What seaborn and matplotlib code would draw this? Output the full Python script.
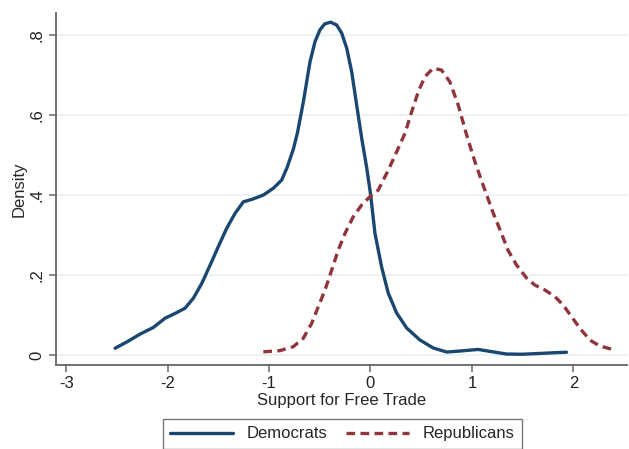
import pandas as pd
import matplotlib
matplotlib.use("Agg")
import matplotlib.pyplot as plt
import seaborn as sns

# valores (densidade estimada por partido)
dem_x = [-2.517, -2.40, -2.27, -2.14, -2.025, -1.926, -1.828, -1.746, -1.663, -1.58,
         -1.50, -1.417, -1.335, -1.253, -1.17, -1.056, -0.957, -0.875, -0.82, -0.76,
         -0.72, -0.66, -0.596, -0.547, -0.498, -0.45, -0.392, -0.333, -0.284, -0.234,
         -0.185, -0.136, -0.087, -0.037, 0.002, 0.044, 0.11, 0.175, 0.258, 0.357, 0.488,
         0.62, 0.751, 0.882, 1.06, 1.207, 1.34, 1.50, 1.67, 1.834, 1.933]
dem_y = [0.017, 0.033, 0.0525, 0.069, 0.092, 0.104, 0.117, 0.142, 0.179, 0.225,
         0.271, 0.317, 0.354, 0.383, 0.389, 0.40, 0.417, 0.4375, 0.47, 0.515,
         0.555, 0.635, 0.733, 0.783, 0.813, 0.828, 0.832, 0.825, 0.805, 0.767,
         0.708, 0.625, 0.543, 0.468, 0.40, 0.305, 0.22, 0.155, 0.105, 0.0675, 0.0375,
         0.0175, 0.0075, 0.01, 0.014, 0.008, 0.0025, 0.002, 0.004, 0.006, 0.007]

rep_x = [-1.056, -0.892, -0.76, -0.662, -0.58, -0.514, -0.448, -0.382, -0.317, -0.251,
         -0.169, -0.087, -0.005, 0.077, 0.176, 0.258, 0.34, 0.406, 0.471, 0.537, 0.619,
         0.70, 0.783, 0.865, 0.948, 1.03, 1.11, 1.21, 1.29, 1.355, 1.44, 1.539, 1.62,
         1.72, 1.818, 1.90, 1.982, 2.064, 2.163, 2.26, 2.41]
rep_y = [0.008, 0.011, 0.021, 0.042, 0.079, 0.121, 0.1625, 0.2125, 0.2625, 0.304,
         0.346, 0.375, 0.396, 0.4125, 0.4625, 0.508, 0.554, 0.608, 0.658, 0.696, 0.717,
         0.7125, 0.683, 0.625, 0.55, 0.483, 0.425, 0.355, 0.305, 0.2625, 0.225, 0.1925, 0.175,
         0.1625, 0.146, 0.125, 0.096, 0.067, 0.0375, 0.0225, 0.0125]

cores = {"Democrats": "#1a476f", "Republicans": "#90353b"}

df = pd.concat([
    pd.DataFrame({"x": dem_x, "y": dem_y, "partido": "Democrats"}),
    pd.DataFrame({"x": rep_x, "y": rep_y, "partido": "Republicans"}),
], ignore_index=True)

sns.set_theme(style="white")
plt.rcParams["font.family"] = ["Liberation Sans", "DejaVu Sans"]

fig = plt.figure(figsize=(6.29, 4.49), dpi=100)
ax = fig.add_axes([0.089, 0.187, 0.908, 0.784])

sns.lineplot(data=df, x="x", y="y", hue="partido", style="partido", palette=cores,
             dashes={"Democrats": "", "Republicans": (2.6, 1.6)}, sort=False,
             estimator=None, linewidth=2.4, ax=ax)
for linha in ax.get_lines():
    linha.set_solid_joinstyle("round")
    linha.set_dash_capstyle("butt")

ax.set_xlim(-3.1, 2.53)
ax.set_ylim(-0.025, 0.855)
ax.set_xticks([-3, -2, -1, 0, 1, 2])
ax.set_xticklabels(["-3", "-2", "-1", "0", "1", "2"], fontsize=12)
ax.set_yticks([0, 0.2, 0.4, 0.6, 0.8])
ax.set_yticklabels(["0", ".2", ".4", ".6", ".8"], fontsize=12, rotation=90, va="center")
ax.set_xlabel("Support for Free Trade", fontsize=12, labelpad=1)
ax.set_ylabel("Density", fontsize=12, labelpad=2)

ax.yaxis.grid(True, color="#e8f0f1", linewidth=1.2)
ax.xaxis.grid(False)
for lado in ["top", "right"]:
    ax.spines[lado].set_visible(False)
for lado in ["left", "bottom"]:
    ax.spines[lado].set_color("#666666")
    ax.spines[lado].set_linewidth(1.3)
ax.tick_params(axis="both", direction="out", length=5, width=1.1, color="#666666",
               labelcolor="#222222", pad=3)
ax.tick_params(axis="both", which="both", bottom=True, left=True)

handles, labels = ax.get_legend_handles_labels()
ax.get_legend().remove()
leg = fig.legend(handles, labels, loc="upper center", bbox_to_anchor=(0.544, 0.067),
                 bbox_transform=fig.transFigure, ncol=2, fancybox=False, frameon=True,
                 fontsize=12, handlelength=3.8, columnspacing=1.1, borderaxespad=0,
                 borderpad=0.45)
leg.get_frame().set_edgecolor("#555555")
leg.get_frame().set_linewidth(1.0)
for linha in leg.get_lines():
    linha.set_linewidth(2.4)

fig.savefig("out.png", dpi=100)
